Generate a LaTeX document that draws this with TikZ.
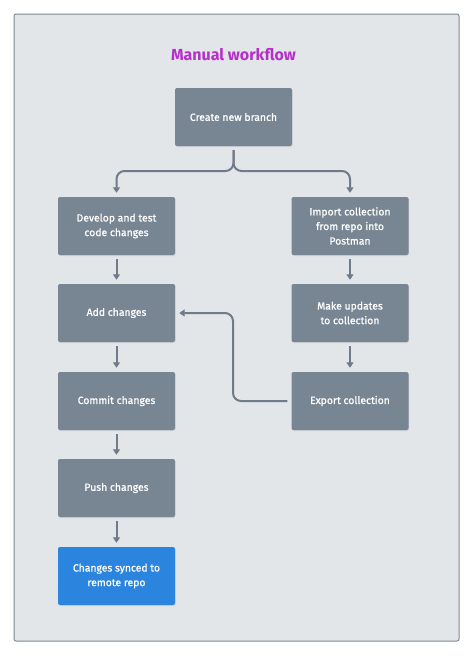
\documentclass[tikz,border=0pt]{standalone}
\usepackage{fontspec}
\setmainfont{Fira Sans}
\newfontfamily\boxfont{Fira Sans}[FakeBold=0.9]
\usetikzlibrary{arrows.meta,shadows}
\definecolor{bgc}{HTML}{E3E6E9}
\definecolor{framec}{HTML}{7E8893}
\definecolor{boxc}{HTML}{788593}
\definecolor{arrc}{HTML}{6F7B88}
\definecolor{bluec}{HTML}{2B85DE}
\definecolor{titlec}{HTML}{B52FC9}
\tikzset{
  stepbox/.style={draw=none, fill=boxc, rounded corners=2pt, minimum width=117pt, minimum height=58pt,
    text=white, align=center, font=\boxfont\fontsize{10.4}{14.6}\selectfont, inner sep=0pt,
    drop shadow={opacity=0.18, shadow xshift=0.6pt, shadow yshift=-1pt}},
  bluebox/.style={stepbox, fill=bluec},
  flow/.style={draw=arrc, line width=2pt, -{Triangle[width=7pt,length=5.5pt]}, shorten >=4pt, shorten <=4pt},
}
\begin{document}
\begin{tikzpicture}[x=1pt,y=-1pt]
\useasboundingbox (0,0) rectangle (474,656);
\fill[white] (0,0) rectangle (474,656);
\draw[framec, fill=bgc, line width=1pt, rounded corners=2pt] (14,14) rectangle (459,641);
\node[text=titlec, font=\fontsize{16}{19}\selectfont\bfseries] (title) at (233.5,55) {Manual workflow};
\node[stepbox] (create) at (233.5,117) {Create new branch};
\node[stepbox] (dev) at (116.5,226) {Develop and test\\code changes};
\node[stepbox] (add) at (116.5,313) {Add changes};
\node[stepbox] (commit) at (116.5,401) {Commit changes};
\node[stepbox] (push) at (116.5,488) {Push changes};
\node[bluebox] (synced) at (116.5,576) {Changes synced to\\remote repo};
\node[stepbox] (import) at (350,226) {Import collection\\from repo into\\Postman};
\node[stepbox] (make) at (350,313) {Make updates\\to collection};
\node[stepbox] (export) at (350,401) {Export collection};
\draw[flow, rounded corners=8pt] (create.south) -- (create.south |- 0,171) -- (dev.north |- 0,171) -- (dev.north);
\draw[flow, rounded corners=8pt] (create.south) -- (create.south |- 0,171) -- (import.north |- 0,171) -- (import.north);
\draw[flow] (dev) -- (add);
\draw[flow] (add) -- (commit);
\draw[flow] (commit) -- (push);
\draw[flow] (push) -- (synced);
\draw[flow] (import) -- (make);
\draw[flow] (make) -- (export);
\draw[flow, rounded corners=8pt] (export.west) -- (233,401) -- (233,313) -- (add.east);
\end{tikzpicture}
\end{document}
